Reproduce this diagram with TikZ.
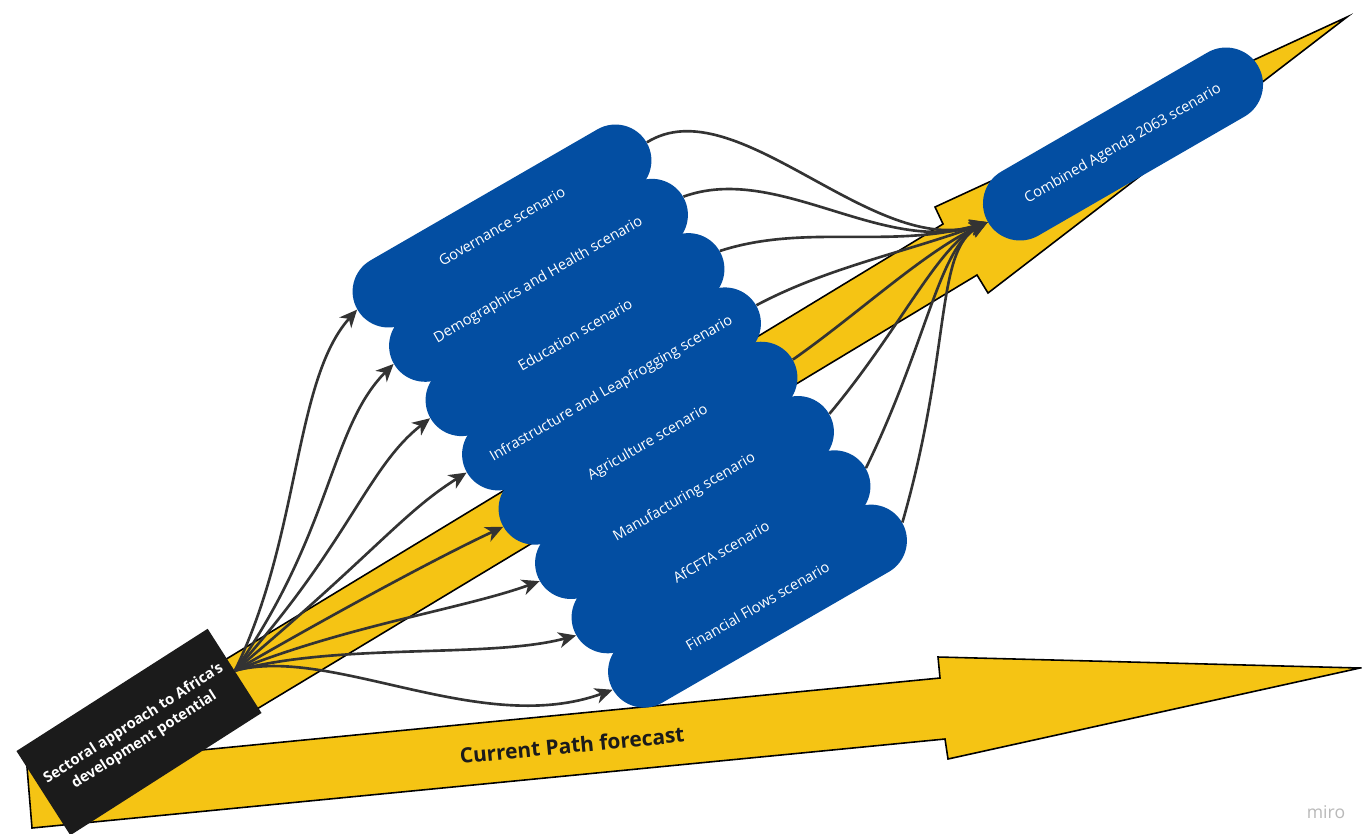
\documentclass[tikz,border=0pt]{standalone}
\usepackage{fontspec}
\setmainfont{Open Sans}
\usepackage{tikz}
\usetikzlibrary{arrows.meta}
\usepackage{xcolor}
\definecolor{pillblue}{HTML}{034EA2}
\definecolor{arrowyellow}{HTML}{F5C414}
\definecolor{boxblack}{HTML}{1B1B1B}
\definecolor{linkgray}{HTML}{333333}
\tikzstyle{scenario}  = [rectangle, rounded corners=0.72cm, minimum width=6.68cm, minimum height=1.44cm,
                         inner sep=0pt, fill=pillblue, text=white, rotate=30,
                         font=\fontsize{8.3}{10}\selectfont]
\tikzstyle{combined}  = [scenario, minimum width=6.24cm, minimum height=1.48cm, rounded corners=0.74cm]
\tikzstyle{sourcebox} = [rectangle, minimum width=4.54cm, minimum height=2cm, fill=boxblack,
                         text=white, align=center, rotate=32.6,
                         font=\bfseries\fontsize{8.4}{11.2}\selectfont]
\tikzstyle{bigarrow}  = [fill=arrowyellow, draw=black, line width=0.9pt, line join=miter]
\tikzstyle{link}      = [draw=linkgray, line width=1.5pt, -{Stealth[length=10pt,width=9pt,inset=3pt]}]

\begin{document}
\begin{tikzpicture}[x=0.02cm, y=0.02cm]
  \fill[white] (0,0) rectangle (1362,-833);
  \useasboundingbox (0,0) rectangle (1362,-833);

  % the two yellow arrows
  \draw[bigarrow] (27,-767) -- (940,-678) -- (938,-657) -- (1360,-668) -- (948,-759) -- (945,-739) -- (32,-828) -- cycle;
  \draw[bigarrow] (200,-675) -- (943,-224) -- (935,-207) -- (1347,-17) -- (988,-293) -- (977,-275) -- (232,-724) -- cycle;
  \node (current) [rotate=5.6, text=boxblack, font=\bfseries\fontsize{11.9}{14}\selectfont] at (572,-745) {Current Path forecast};

  \node (sectoral) [sourcebox] at (139,-732) {Sectoral approach to Africa's\\development potential};

  % sector scenarios, stacked along the arrow
  \node (gov)      [scenario] at (502,-226) {Governance scenario};
  \node (demo)     [scenario] at ([shift={(36.5,-54.3)}]gov) {Demographics and Health scenario};
  \node (edu)      [scenario] at ([shift={(36.5,-54.3)}]demo) {Education scenario};
  \node (infra)    [scenario] at ([shift={(36.5,-54.3)}]edu) {Infrastructure and Leapfrogging scenario};
  \node (agri)     [scenario] at ([shift={(36.5,-54.3)}]infra) {Agriculture scenario};
  \node (manu)     [scenario] at ([shift={(36.5,-54.3)}]agri) {Manufacturing scenario};
  \node (afcfta)   [scenario] at ([shift={(36.5,-54.3)}]manu) {AfCFTA scenario};
  \node (finflows) [scenario] at ([shift={(36.5,-54.3)}]afcfta) {Financial Flows scenario};

  \node (agenda) [combined] at (1123,-144) {Combined Agenda 2063 scenario};
  \node (miro) [text=gray!55, font=\fontsize{10}{12}\selectfont] at (1326,-812) {miro};

  % fan out from the box
  \draw[link] (sectoral.east) .. controls +(64:150) and +(228:95) .. (gov.west);
  \draw[link] (sectoral.east) .. controls +(55:170) and +(225:90) .. (demo.west);
  \draw[link] (sectoral.east) .. controls +(48:170) and +(218:80) .. (edu.west);
  \draw[link] (sectoral.east) .. controls +(40:180) and +(212:75) .. (infra.west);
  \draw[link] (sectoral.east) .. controls +(30:120) and +(205:70) .. (agri.west);
  \draw[link] (sectoral.east) .. controls +(22:120) and +(200:80) .. (manu.west);
  \draw[link] (sectoral.east) .. controls +(15:110) and +(195:90) .. (afcfta.west);
  \draw[link] (sectoral.east) .. controls +(15:100) and +(200:140) .. (finflows.west);

  % and back together into the combined scenario
  \draw[link] (gov.east)      .. controls +(32:105) and +(198:120) .. (agenda.west);
  \draw[link] (demo.east)     .. controls +(20:100) and +(198:110) .. (agenda.west);
  \draw[link] (edu.east)      .. controls +(18:90)  and +(196:100) .. (agenda.west);
  \draw[link] (infra.east)    .. controls +(28:80)  and +(200:90)  .. (agenda.west);
  \draw[link] (agri.east)     .. controls +(35:80)  and +(205:70)  .. (agenda.west);
  \draw[link] (manu.east)     .. controls +(50:110) and +(205:55)  .. (agenda.west);
  \draw[link] (afcfta.east)   .. controls +(64:140) and +(207:55)  .. (agenda.west);
  \draw[link] (finflows.east) .. controls +(74:180) and +(208:60)  .. (agenda.west);
\end{tikzpicture}
\end{document}
